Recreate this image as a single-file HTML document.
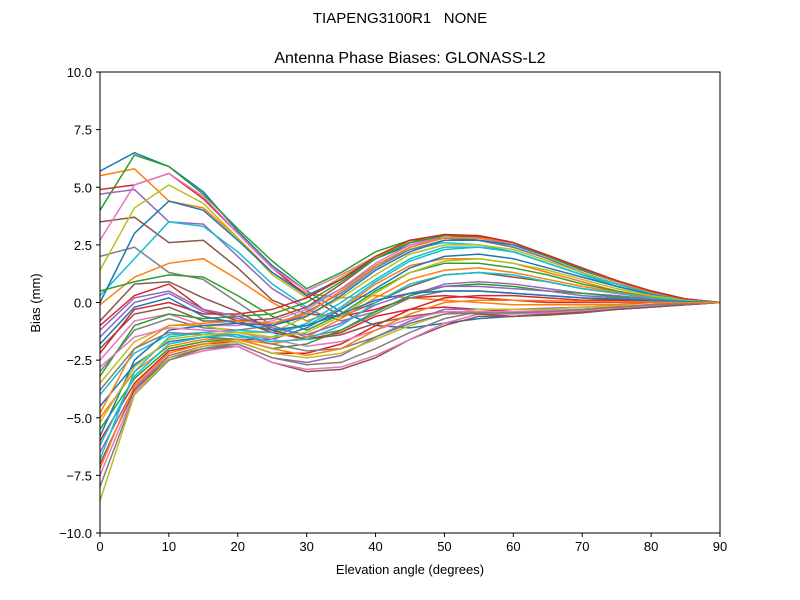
<!DOCTYPE html>
<html><head><meta charset="utf-8"><style>
html,body{margin:0;padding:0;background:#fff;}
svg{display:block;font-family:"Liberation Sans","DejaVu Sans",sans-serif;}
</style></head><body>
<svg id="chart" width="800" height="600" viewBox="0 0 800 600">
<text x="400" y="23" text-anchor="middle" font-size="15">TIAPENG3100R1&#160;&#160;&#160;NONE</text>
<text x="410" y="63" text-anchor="middle" font-size="16">Antenna Phase Biases: GLONASS-L2</text>
<g id="plot"></g>
<g id="axes"></g>
<text x="410" y="574" text-anchor="middle" font-size="13">Elevation angle (degrees)</text>
<text x="0" y="0" transform="translate(40,303) rotate(-90)" text-anchor="middle" font-size="13">Bias (mm)</text>
</svg>
<script>
const elevations = [0,5,10,15,20,25,30,35,40,45,50,55,60,65,70,75,80,85,90];
const xTicks = [0,10,20,30,40,50,60,70,80,90];
const yTicks = [-10,-7.5,-5,-2.5,0,2.5,5,7.5,10];
const yTickLabels = ["\u221210.0","\u22127.5","\u22125.0","\u22122.5","0.0","2.5","5.0","7.5","10.0"];
const s01=[5.7,6.5,5.9,4.8,3.1,1.6,0.5,-0.4,-1.0,-1.1,-0.9,-0.7,-0.6,-0.5,-0.4,-0.3,-0.2,-0.1,0];
const s02=[5.5,5.8,4.4,4.1,2.8,1.3,0.4,0.2,0.3,0.2,0.1,0.0,-0.1,-0.1,-0.1,-0.1,0,0,0];
const s03=[4.0,6.4,5.9,4.7,3.2,1.8,0.6,1.3,2.2,2.7,2.8,2.7,2.4,1.9,1.3,0.8,0.4,0.15,0];
const s04=[4.9,5.1,5.6,4.5,3.0,1.5,0.3,-0.6,-0.3,0.2,0.3,0.2,0.1,0.0,0,0,0,0,0];
const s05=[4.7,4.9,3.5,3.4,2.0,0.6,-0.3,-0.8,-0.4,0.3,0.8,0.9,0.8,0.6,0.4,0.3,0.15,0.05,0];
const s06=[3.5,3.7,2.6,2.7,1.5,0.1,-0.5,-0.6,0.0,0.7,1.2,1.3,1.1,0.9,0.6,0.4,0.2,0.1,0];
const s07=[2.7,5.1,5.6,4.6,3.0,1.5,0.5,1.2,2.0,2.6,2.8,2.7,2.4,1.9,1.3,0.8,0.4,0.15,0];
const s08=[2.0,2.4,1.3,1.0,0.0,-1.0,-1.5,-1.2,-0.5,0.2,0.5,0.5,0.4,0.3,0.2,0.1,0.05,0,0];
const s09=[1.4,4.1,5.1,4.3,2.8,1.2,0.2,1.1,2.0,2.6,2.9,2.8,2.5,2.0,1.4,0.9,0.45,0.15,0];
const s10=[0.3,1.9,3.5,3.3,2.2,0.8,-0.2,0.6,1.6,2.3,2.6,2.5,2.2,1.7,1.2,0.7,0.35,0.12,0];
const s11=[0.0,3.0,4.4,4.0,2.7,1.3,0.3,1.0,1.9,2.5,2.8,2.7,2.4,1.9,1.3,0.8,0.4,0.15,0];
const s12=[-0.1,1.1,1.7,1.9,1.0,0.0,-0.8,-0.3,0.8,1.6,1.9,1.9,1.7,1.3,0.9,0.5,0.25,0.1,0];
const s13=[0.5,0.9,1.2,1.1,0.3,-0.6,-1.2,-0.5,0.5,1.3,1.7,1.7,1.5,1.2,0.8,0.5,0.2,0.08,0];
const s14=[-1.0,0.3,0.8,-0.3,-0.8,-1.3,-1.6,-1.3,-0.6,-0.3,-0.2,-0.3,-0.4,-0.4,-0.3,-0.2,-0.1,-0.05,0];
const s15=[-1.5,0.0,0.4,-0.4,-0.7,-1.0,-0.5,0.5,1.6,2.4,2.8,2.8,2.5,2.0,1.4,0.9,0.45,0.15,0];
const s16=[-2.0,-0.5,-0.2,-0.8,-0.8,-0.7,-0.2,0.8,1.9,2.6,2.9,2.85,2.6,2.0,1.45,0.9,0.5,0.15,0];
const s17=[-2.5,-0.8,-0.5,-1.0,-1.0,-0.8,-0.3,0.6,1.7,2.5,2.8,2.8,2.5,2.0,1.4,0.9,0.45,0.15,0];
const s18=[-3.0,-1.2,-0.7,-1.1,-1.2,-1.0,-0.4,0.4,1.5,2.3,2.7,2.7,2.4,1.9,1.3,0.8,0.4,0.15,0];
const s19=[-3.5,-1.7,-1.0,-1.0,-1.3,-1.3,-0.6,0.2,1.2,2.1,2.5,2.5,2.3,1.8,1.3,0.8,0.4,0.15,0];
const s20=[-4.0,-2.2,-1.4,-1.3,-1.5,-1.5,-0.9,0.0,1.0,1.9,2.4,2.4,2.2,1.7,1.2,0.8,0.4,0.15,0];
const s21=[-4.5,-2.7,-1.7,-1.5,-1.6,-1.6,-1.1,-0.3,0.6,1.5,2.0,2.1,1.9,1.5,1.1,0.7,0.35,0.12,0];
const s22=[-5.0,-3.0,-1.9,-1.6,-1.6,-1.8,-1.5,-0.7,0.2,1.0,1.4,1.5,1.3,1.0,0.7,0.45,0.2,0.08,0];
const s23=[-5.5,-3.3,-2.0,-1.7,-1.6,-2.0,-1.8,-1.2,-0.4,0.3,0.7,0.8,0.7,0.5,0.4,0.25,0.1,0.05,0];
const s24=[-6.0,-3.5,-2.1,-1.8,-1.7,-2.2,-2.2,-1.8,-1.0,-0.3,0.2,0.3,0.3,0.2,0.1,0.1,0.05,0,0];
const s25=[-6.5,-3.7,-2.3,-1.9,-1.8,-2.4,-2.6,-2.3,-1.5,-0.8,-0.3,-0.3,-0.3,-0.25,-0.2,-0.15,-0.1,-0.05,0];
const s26=[-7.0,-3.8,-2.4,-2.0,-1.9,-2.6,-3.0,-2.9,-2.4,-1.6,-1.0,-0.6,-0.6,-0.5,-0.4,-0.3,-0.2,-0.1,0];
const s27=[-7.5,-3.9,-2.5,-2.1,-1.9,-2.6,-2.9,-2.8,-2.3,-1.6,-0.9,-0.5,-0.5,-0.45,-0.35,-0.25,-0.15,-0.05,0];
const s28=[-8.0,-4.0,-2.5,-2.0,-1.8,-2.4,-2.7,-2.6,-2.0,-1.3,-0.7,-0.4,-0.4,-0.35,-0.3,-0.2,-0.1,-0.05,0];
const s29=[-8.6,-4.0,-2.4,-1.9,-1.7,-2.2,-2.4,-2.2,-1.6,-1.0,-0.5,-0.3,-0.3,-0.3,-0.2,-0.15,-0.1,-0.05,0];
const s30=[-6.8,-3.0,-1.5,-1.3,-1.2,-1.3,-1.0,-0.2,0.9,1.8,2.3,2.4,2.2,1.7,1.2,0.8,0.4,0.15,0];
const s31=[-5.8,-2.5,-1.2,-1.0,-0.9,-1.0,-0.6,0.3,1.4,2.2,2.7,2.7,2.5,2.0,1.4,0.9,0.45,0.15,0];
const s32=[-4.8,-2.0,-1.0,-0.9,-0.8,-0.9,-0.5,0.5,1.6,2.4,2.8,2.8,2.6,2.0,1.45,0.9,0.45,0.15,0];
const s33=[-3.2,-1.0,-0.5,-0.7,-0.6,-0.5,0.0,0.9,1.9,2.6,2.9,2.9,2.6,2.0,1.45,0.95,0.5,0.15,0];
const s34=[-2.2,-0.3,0.0,-0.5,-0.5,-0.3,0.2,1.0,2.0,2.7,2.95,2.9,2.6,2.05,1.5,0.95,0.5,0.15,0];
const s35=[-1.2,0.2,0.5,-0.3,-0.6,-1.1,-1.4,-0.9,-0.1,0.4,0.7,0.7,0.6,0.5,0.3,0.2,0.1,0.05,0];
const s36=[-0.8,0.8,0.9,0.2,-0.4,-1.2,-1.6,-1.4,-0.9,-0.6,-0.4,-0.5,-0.6,-0.55,-0.45,-0.3,-0.2,-0.1,0];
const s37=[-2.8,-1.5,-1.1,-1.2,-1.3,-1.6,-1.9,-1.7,-1.2,-0.7,-0.4,-0.4,-0.4,-0.35,-0.3,-0.2,-0.1,-0.05,0];
const s38=[-3.8,-2.0,-1.3,-1.4,-1.4,-1.8,-2.1,-2.0,-1.5,-0.9,-0.5,-0.45,-0.45,-0.4,-0.3,-0.2,-0.1,-0.05,0];
const s39=[-5.2,-2.8,-1.6,-1.4,-1.3,-1.5,-1.3,-0.6,0.4,1.3,1.8,1.9,1.7,1.4,1.0,0.6,0.3,0.1,0];
const s40=[-6.2,-3.2,-1.8,-1.5,-1.4,-1.7,-1.6,-1.0,0.0,0.8,1.2,1.3,1.2,0.9,0.6,0.4,0.2,0.07,0];
const s41=[-1.8,-0.2,0.2,-0.6,-0.9,-1.2,-1.0,-0.5,0.1,0.4,0.5,0.5,0.4,0.3,0.2,0.15,0.08,0.03,0];
const s42=[-7.2,-3.6,-2.2,-1.8,-1.6,-2.0,-2.3,-2.0,-1.2,-0.5,0.0,0.1,0.1,0.08,0.05,0.03,0.02,0,0];
const seriesList=[s01,s02,s03,s04,s05,s06,s07,s08,s09,s10,s11,s12,s13,s14,s15,s16,s17,s18,s19,s20,s21,s22,s23,s24,s25,s26,s27,s28,s29,s30,s31,s32,s33,s34,s35,s36,s37,s38,s39,s40,s41,s42];
const palette=["#1f77b4","#ff7f0e","#2ca02c","#d62728","#9467bd","#8c564b","#e377c2","#7f7f7f","#bcbd22","#17becf"];

const NS="http://www.w3.org/2000/svg";
const X0=100,X1=720,Y0=533,Y1=72;
function xScale(v){return X0+(v-0)/(90-0)*(X1-X0);}
function yScale(v){return Y0-(v-(-10))/(20)*(Y0-Y1);}
const plot=document.getElementById('plot');
const axes=document.getElementById('axes');

seriesList.forEach((s,i)=>{
  const p=document.createElementNS(NS,'polyline');
  p.setAttribute('points',s.map((v,j)=>xScale(elevations[j]).toFixed(2)+','+yScale(v).toFixed(2)).join(' '));
  p.setAttribute('fill','none');
  p.setAttribute('stroke',palette[i%10]);
  p.setAttribute('stroke-width','1.5');
  
  
  plot.appendChild(p);
});

const frame=document.createElementNS(NS,'rect');
frame.setAttribute('x',X0);frame.setAttribute('y',Y1);
frame.setAttribute('width',X1-X0);frame.setAttribute('height',Y0-Y1);
frame.setAttribute('fill','none');frame.setAttribute('stroke','#000');frame.setAttribute('stroke-width','1');


axes.appendChild(frame);

xTicks.forEach(t=>{
  const x=xScale(t);
  const l=document.createElementNS(NS,'line');
  l.setAttribute('x1',x);l.setAttribute('x2',x);l.setAttribute('y1',Y0);l.setAttribute('y2',Y0+4);
  l.setAttribute('stroke','#000');
  
  
  axes.appendChild(l);
  const tx=document.createElementNS(NS,'text');
  tx.setAttribute('x',x);tx.setAttribute('y',Y0+18);tx.setAttribute('text-anchor','middle');tx.setAttribute('font-size','13');
  tx.textContent=String(t);
  
  
  axes.appendChild(tx);
});
yTicks.forEach((t,i)=>{
  const y=yScale(t);
  const l=document.createElementNS(NS,'line');
  l.setAttribute('x1',X0-4);l.setAttribute('x2',X0);l.setAttribute('y1',y);l.setAttribute('y2',y);
  l.setAttribute('stroke','#000');
  
  
  axes.appendChild(l);
  const tx=document.createElementNS(NS,'text');
  tx.setAttribute('x',X0-8);tx.setAttribute('y',y+5);tx.setAttribute('text-anchor','end');tx.setAttribute('font-size','13');
  tx.textContent=yTickLabels[i];
  
  
  axes.appendChild(tx);
});
</script>
</body></html>
